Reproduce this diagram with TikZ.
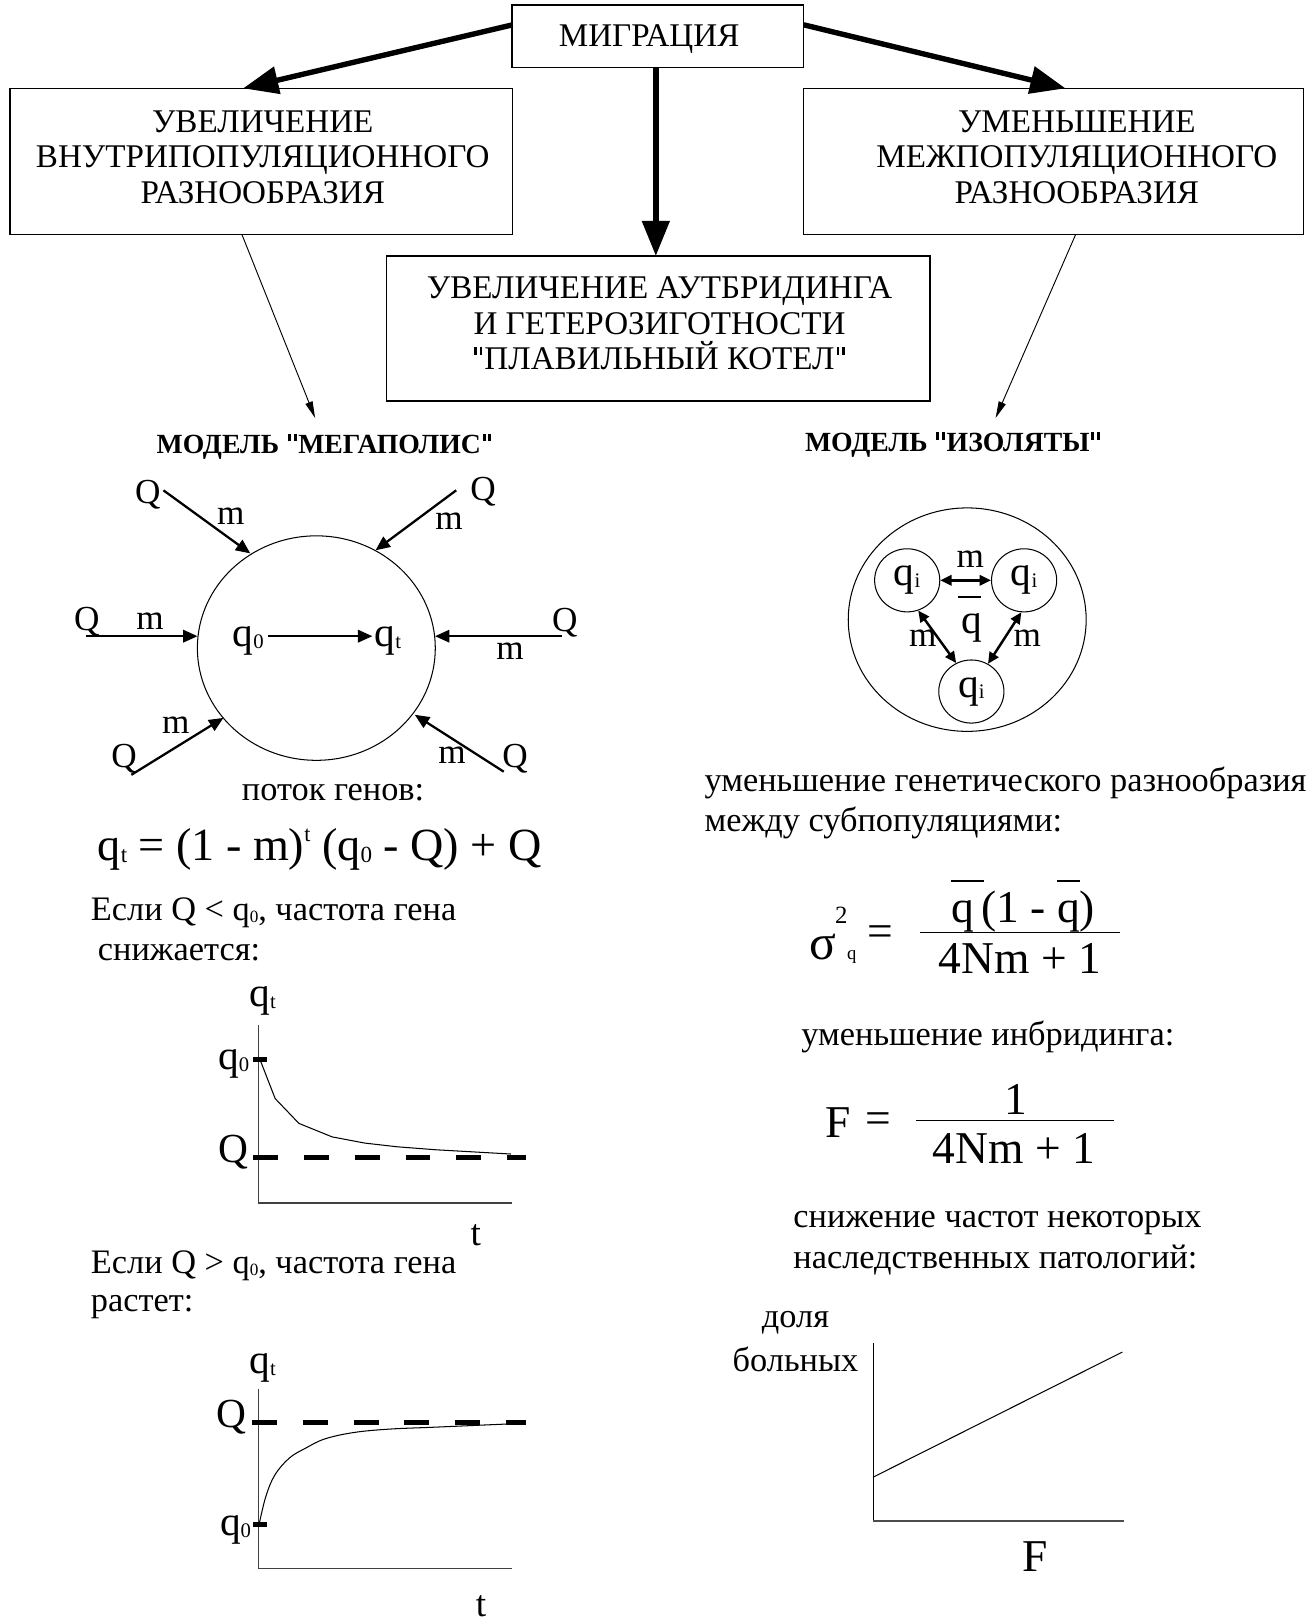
\documentclass[tikz,border=0pt]{standalone}
\usepackage{fontspec}
\usepackage{graphicx}
\setmainfont{Liberation Serif}
\usetikzlibrary{arrows.meta,shapes.geometric}
\newcommand\fsz[2]{\fontsize{#1pt}{#2pt}\selectfont}
\newcommand\lo[1]{\raisebox{-0.04em}{\scalebox{0.5}{#1}}}
\newcommand\hi[1]{\raisebox{0.42em}{\scalebox{0.48}{#1}}}
\newcommand\dq{\kern0.06em\rule[0.43em]{0.075em}{0.24em}\kern0.1em\rule[0.43em]{0.075em}{0.24em}\kern0.06em}
\newcommand\dqb{\kern0.06em\rule[0.42em]{0.11em}{0.26em}\kern0.1em\rule[0.42em]{0.11em}{0.26em}\kern0.06em}
\newcommand\qb[1]{\leavevmode\rlap{\raisebox{0.9em}{\rule{#1}{0.045em}}}q}
\begin{document}
\begin{tikzpicture}[x=0.5pt,y=-0.5pt,
 box/.style={draw, line width=0.6pt, inner sep=0pt, rectangle},
 btxt/.style={font=\fsz{16}{17.2}, align=center, inner sep=0pt},
 bigarrow/.style={line width=2.6pt, -{Triangle[length=17pt,width=13pt]}},
 thinarrow/.style={line width=0.45pt, -{Triangle[length=8pt,width=3.6pt]}},
 flow/.style={line width=1.1pt, -{Triangle[length=7pt,width=6pt]}},
 dbl/.style={line width=1.2pt, {Triangle[length=5.5pt,width=5pt]}-{Triangle[length=5.5pt,width=5pt]}},
 lbl/.style={font=\fsz{17}{19}, inner sep=0pt},
 bigq/.style={font=\fsz{20}{22}, inner sep=0pt},
 body/.style={font=\fsz{16.6}{19}, inner sep=0pt, anchor=west},
 ctext/.style={font=\fsz{16.6}{19}, inner sep=0pt},
 title/.style={font=\fsz{13.4}{15}\bfseries, inner sep=0pt},
 axis/.style={line width=0.7pt, black!75},
 tickm/.style={line width=2.4pt},
 qdash/.style={line width=2.4pt, dash pattern=on 12pt off 12.5pt},
 curve/.style={line width=0.5pt},
 ring/.style={draw, ellipse, line width=0.5pt, inner sep=0pt},
 frm/.style={font=\fsz{22}{24}, inner sep=0pt},
]
\useasboundingbox (0,0) rectangle (1270,1568);
\fill[white] (0,0) rectangle (1270,1568);

% ---------- top boxes ----------
\node[box, minimum width=141pt, minimum height=30.25pt] (mig) at (636,35) {};
\node[btxt] (migT) at (627.5,38) {МИГРАЦИЯ};
\node[box, minimum width=242.85pt, minimum height=70.8pt] (lbox) at (252.6,156.2) {};
\node[btxt] (lboxT) at (254,152) {УВЕЛИЧЕНИЕ\\ВНУТРИПОПУЛЯЦИОННОГО\\РАЗНООБРАЗИЯ};
\node[box, minimum width=241.5pt, minimum height=70.8pt] (rbox) at (1018.5,156.2) {};
\node[btxt] (rboxT) at (1041,152) {УМЕНЬШЕНИЕ\\МЕЖПОПУЛЯЦИОННОГО\\РАЗНООБРАЗИЯ};
\node[box, minimum width=262.7pt, minimum height=70.1pt] (cbox) at (636.3,317.5) {};
\node[btxt] (cboxT) at (637.6,312.5) {УВЕЛИЧЕНИЕ АУТБРИДИНГА\\И ГЕТЕРОЗИГОТНОСТИ\\\dq ПЛАВИЛЬНЫЙ КОТЕЛ\dq};

\coordinate (mL) at (495.5,24);
\coordinate (mR) at (777,24);
\coordinate (mB) at (634,65.4);
\coordinate (lT) at (235,85.4);
\coordinate (rT) at (1030,85.4);
\coordinate (cT) at (634,247.4);
\draw[bigarrow] (mL) -- (lT);
\draw[bigarrow] (mR) -- (rT);
\draw[bigarrow] (mB) -- (cT);

\coordinate (lB) at (234,227);
\coordinate (rB) at (1039.7,227);
\coordinate (mgT) at (304.6,404);
\coordinate (isT) at (962.5,404);
\draw[thinarrow] (lB) -- (mgT);
\draw[thinarrow] (rB) -- (isT);

% ---------- megapolis ----------
\node[title] (mgTitle) at (314,431.7) {МОДЕЛЬ \dqb МЕГАПОЛИС\dqb};
\node[ring, minimum width=115pt, minimum height=108.5pt] (city) at (305.8,626.5) {};
\node[bigq] (q0) at (240,620) {q\lo{0}};
\node[bigq] (qt) at (375,620) {q\lo{t}};
\coordinate (fa) at (259,615);
\coordinate (fb) at (360,615);
\draw[flow] (fa) -- (fb);

\coordinate (s1) at (158,474); \coordinate (t1) at (242,535);
\coordinate (s2) at (441,474); \coordinate (t2) at (363,532);
\coordinate (s3) at (83,615);  \coordinate (t3) at (191,615);
\coordinate (s4) at (543,615); \coordinate (t4) at (420.5,615);
\coordinate (s5) at (127,749); \coordinate (t5) at (216,694);
\coordinate (s6) at (487,746); \coordinate (t6) at (401,691);
\foreach \i in {1,...,6} {\draw[flow] (s\i) -- (t\i);}
\node[lbl] (Q1) at (143,478) {Q}; \node[lbl] (m1) at (223,499) {m};
\node[lbl] (Q2) at (467,475) {Q}; \node[lbl] (m2) at (434,504) {m};
\node[lbl] (Q3) at (84,601) {Q};  \node[lbl] (m3) at (145,601) {m};
\node[lbl] (Q4) at (546,602) {Q}; \node[lbl] (m4) at (493,630) {m};
\node[lbl] (Q5) at (120,733) {Q}; \node[lbl] (m5) at (170,701) {m};
\node[lbl] (Q6) at (498,733) {Q}; \node[lbl] (m6) at (437,730) {m};

\node[ctext] (flowT) at (322,766.5) {поток генов:};
\node[font=\fsz{22.3}{24}, inner sep=0pt] (formula) at (309,821.6) {q\lo{t} = (1 - m)\hi{t} (q\lo{0} - Q) + Q};

\node[body] (if1) at (87.5,882.6) {Если Q < q\lo{0}, частота гена};
\node[body] (if1b) at (94.3,921) {снижается:};

% graph 1
\coordinate (g1o) at (250,1163);
\coordinate (g1y) at (250,991);
\coordinate (g1x) at (495,1163);
\draw[axis] (g1y) -- (g1o) -- (g1x);
\coordinate (g1ta) at (245,1024); \coordinate (g1tb) at (258,1024);
\draw[tickm] (g1ta) -- (g1tb);
\coordinate (g1da) at (245,1119); \coordinate (g1db) at (508,1119);
\draw[qdash] (g1da) -- (g1db);
\draw[curve] (252,1026) -- (266,1062) -- (289,1086) -- (321,1099) -- (352.5,1105) -- (384,1108.6) -- (421.6,1111.5) -- (494,1115.6);
\node[bigq] (g1qt) at (254,968) {q\lo{t}};
\node[bigq] (g1q0) at (226,1029) {q\lo{0}};
\node[font=\fsz{20}{22}, inner sep=0pt] (g1Q) at (226,1114) {Q};
\node[font=\fsz{18}{20}, inner sep=0pt] (g1t) at (460,1194) {t};

\node[body] (if2) at (87.5,1224) {Если Q > q\lo{0}, частота гена};
\node[body] (if2b) at (87.5,1264) {растет:};

% graph 2
\coordinate (g2o) at (250,1516);
\coordinate (g2y) at (250,1343);
\coordinate (g2x) at (495,1516);
\draw[axis] (g2y) -- (g2o) -- (g2x);
\coordinate (g2ta) at (245,1474); \coordinate (g2tb) at (258,1474);
\draw[tickm] (g2ta) -- (g2tb);
\coordinate (g2da) at (244,1375); \coordinate (g2db) at (508,1375);
\draw[qdash] (g2da) -- (g2db);
\draw[curve] plot[smooth, tension=0.6] coordinates {(250.4,1474) (257,1446.6) (265.8,1425.7) (279.7,1409.5) (295.3,1400) (314,1391) (342,1384.8) (376.7,1381.5) (421.4,1379.6) (494.5,1376.4)};
\node[bigq] (g2qt) at (254,1322.6) {q\lo{t}};
\node[font=\fsz{20}{22}, inner sep=0pt] (g2Q) at (224,1370) {Q};
\node[bigq] (g2q0) at (227.7,1479) {q\lo{0}};
\node[font=\fsz{18}{20}, inner sep=0pt] (g2t) at (465,1553) {t};

% ---------- isolates ----------
\node[title] (isTitle) at (921.6,430) {МОДЕЛЬ \dqb ИЗОЛЯТЫ\dqb};
\node[ring, minimum width=115pt, minimum height=108pt] (iso) at (935,599) {};
\node[ring, minimum width=31.5pt, minimum height=30.5pt, font=\fsz{20}{22}] (ia) at (877,561) {q\lo{i}};
\node[ring, minimum width=31.5pt, minimum height=30.5pt, font=\fsz{20}{22}] (ib) at (990,561) {q\lo{i}};
\node[ring, minimum width=31.5pt, minimum height=30.5pt, font=\fsz{20}{22}] (ic) at (939,668.5) {q\lo{i}};
\draw[dbl] (ia.east) -- (ib.west);
\draw[dbl] (ia.-70) -- (ic.118);
\draw[dbl] (ib.-95) -- (ic.59);
\node[lbl] (im1) at (938,541) {m};
\node[lbl] (im2) at (892,617) {m};
\node[lbl] (im3) at (993,617) {m};
\node[bigq] (qbar) at (939,607) {q};
\coordinate (qba) at (926,577); \coordinate (qbb) at (948,577);
\draw[line width=0.8pt] (qba) -- (qbb);

\node[body] (r1) at (680.7,757) {уменьшение генетического разнообразия};
\node[body] (r2) at (680.7,795.7) {между субпопуляциями:};

% sigma formula
\node[font=\fsz{24}{26}, inner sep=0pt, anchor=base] (sig) at (795,928) {σ};
\node[font=\fsz{12}{13}, inner sep=0pt] (s2) at (813.4,884.4) {2};
\node[font=\fsz{9}{10}, inner sep=0pt] (sq) at (823.5,925) {q};
\node[frm] (eq1) at (851,905) {=};
\coordinate (fl1a) at (889,901.5); \coordinate (fl1b) at (1082.6,901.5);
\draw[line width=0.7pt] (fl1a) -- (fl1b);
\node[frm, anchor=base] (num1) at (989,892) {\qb{0.72em}\,(1 - \qb{0.5em})};
\node[frm, anchor=base] (den1) at (986,940.7) {4Nm + 1};

\node[ctext] (inbr) at (955,1002) {уменьшение инбридинга:};

% F formula
\node[frm, anchor=base] (F1) at (810,1100) {F};
\node[frm] (eq2) at (849,1085.8) {=};
\coordinate (fl2a) at (885.5,1083); \coordinate (fl2b) at (1076.8,1083);
\draw[line width=0.7pt] (fl2a) -- (fl2b);
\node[frm, anchor=base] (num2) at (982,1077) {1};
\node[frm, anchor=base] (den2) at (980,1124.4) {4Nm + 1};

\node[body] (r3) at (766.6,1182) {снижение частот некоторых};
\node[body] (r4) at (766.6,1218) {наследственных патологий:};

% graph 3
\node[ctext] (dolya) at (769,1279) {доля};
\node[ctext] (boln) at (769,1314.5) {больных};
\coordinate (g3o) at (844,1470);
\coordinate (g3y) at (844,1298);
\coordinate (g3x) at (1087,1470);
\draw[line width=0.5pt] (g3y) -- (g3o);
\draw[line width=0.9pt, black!70] (g3o) -- (g3x);
\coordinate (g3a) at (844,1428); \coordinate (g3b) at (1085,1307);
\draw[curve] (g3a) -- (g3b);
\node[font=\fsz{22}{24}, inner sep=0pt] (g3F) at (1001,1504.6) {F};
\end{tikzpicture}
\end{document}
